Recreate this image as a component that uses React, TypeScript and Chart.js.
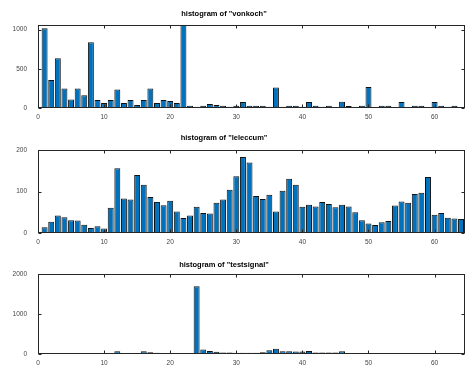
import React, { useEffect, useRef } from "react";
import { Chart, registerables } from "chart.js";

Chart.register(...registerables);

const bins = [
  1, 2, 3, 4, 5, 6, 7, 8, 9, 10, 11, 12, 13, 14, 15, 16, 17, 18, 19, 20, 21, 22, 23, 24, 25, 26, 27, 28, 29, 30, 31, 32,
  33, 34, 35, 36, 37, 38, 39, 40, 41, 42, 43, 44, 45, 46, 47, 48, 49, 50, 51, 52, 53, 54, 55, 56, 57, 58, 59, 60, 61, 62, 63, 64,
];

const vonkoch = [
  1020, 359, 636, 248, 107, 248, 162, 841, 102, 64, 102, 235, 64, 102, 38, 102, 248, 64, 102, 90, 64, 1080, 30, 17, 30, 51, 38, 30, 17, 30, 77, 30,
  30, 30, 17, 262, 17, 30, 30, 17, 77, 30, 17, 30, 10, 79, 26, 10, 30, 269, 10, 30, 30, 13, 77, 13, 30, 30, 13, 77, 30, 17, 30, 10,
];

const leleccum = [
  14, 27, 42, 38, 31, 30, 20, 12, 16, 11, 61, 156, 83, 81, 140, 116, 87, 75, 67, 78, 52, 36, 42, 63, 48, 47, 73, 81, 104, 137, 183, 170,
  89, 82, 92, 52, 102, 131, 116, 63, 68, 64, 75, 70, 62, 68, 64, 50, 31, 23, 19, 26, 29, 66, 76, 73, 94, 97, 135, 44, 48, 37, 35, 34,
];

const testsignal = [
  6, 5, 6, 5, 6, 5, 5, 0, 0, 0, 0, 72, 0, 0, 0, 72, 48, 32, 24, 24, 24, 24, 24, 1696, 112, 80, 56, 40, 40, 32, 32, 32,
  32, 48, 96, 136, 72, 72, 64, 64, 80, 40, 40, 40, 40, 72, 16, 16, 16, 16, 8, 8, 8, 8, 8, 0, 0, 0, 0, 0, 0, 0, 0, 0,
];

const xTicks = [0, 10, 20, 30, 40, 50, 60];

const titles = ['histogram of "vonkoch"', 'histogram of "leleccum"', 'histogram of "testsignal"'];
const seriesList = [vonkoch, leleccum, testsignal];
const yMaxes = [1060, 200, 2000];
const yTickLists = [
  [0, 500, 1000],
  [0, 100, 200],
  [0, 1000, 2000],
];

// layout (pixels)
const W = 468;
const H = 369;
const plotLeft = 38;
const plotRight = 465;
const plotTops = [25, 150, 274];
const plotBottoms = [108, 233, 358];
const titleYs = [13.5, 138, 264.5];
const titleX = 224;
const xAxisH = 12;

const FONT = '"Liberation Sans", Arial, Helvetica, sans-serif';
const AXIS_COLOR = "#262626";

function makeBoxPlugin(title: string, titleY: number, yTicks: number[]) {
  return {
    id: "boxAndTitle",
    afterDatasetsDraw(chart: any) {
      const { ctx, chartArea } = chart;
      const { left, right, top, bottom } = chartArea;
      const xs = chart.scales.x;
      const ys = chart.scales.y;
      ctx.save();
      ctx.strokeStyle = AXIS_COLOR;
      ctx.lineWidth = 1;
      const L = Math.round(left) + 0.5;
      const R = Math.round(right) - 0.5;
      const T = Math.round(top) + 0.5;
      const B = Math.round(bottom) - 0.5;
      ctx.strokeRect(L, T, R - L, B - T);
      const tl = 3;
      ctx.beginPath();
      for (const v of xTicks) {
        const px = Math.round(xs.getPixelForValue(v)) + 0.5;
        ctx.moveTo(px, B);
        ctx.lineTo(px, B - tl);
        ctx.moveTo(px, T);
        ctx.lineTo(px, T + tl);
      }
      for (const v of yTicks) {
        const py = Math.round(ys.getPixelForValue(v)) + 0.5;
        ctx.moveTo(L, py);
        ctx.lineTo(L + tl, py);
        ctx.moveTo(R, py);
        ctx.lineTo(R - tl, py);
      }
      ctx.stroke();
      ctx.fillStyle = "#000";
      ctx.font = `bold 7.5px ${FONT}`;
      ctx.textAlign = "center";
      ctx.textBaseline = "middle";
      ctx.fillText(title, titleX, titleY);
      ctx.restore();
    },
  };
}

function Panel({ idx }: { idx: number }) {
  const ref = useRef<HTMLCanvasElement | null>(null);
  useEffect(() => {
    if (!ref.current) return;
    const values = seriesList[idx];
    const yTicks = yTickLists[idx];
    const chart = new Chart(ref.current, {
      type: "bar",
      data: {
        datasets: [
          {
            data: bins.map((b, i) => ({ x: b, y: values[i] })),
            backgroundColor: "#0072BD",
            borderColor: "#111111",
            borderWidth: 1,
            borderSkipped: false,
            barPercentage: 0.9,
            categoryPercentage: 1.0,
          },
        ],
      },
      options: {
        animation: false,
        responsive: false,
        events: [],
        layout: {
          autoPadding: false,
          padding: {
            top: plotTops[idx],
            bottom: H - plotBottoms[idx] - xAxisH,
            left: 0,
            right: W - plotRight,
          },
        },
        plugins: {
          legend: { display: false },
          title: { display: false },
          tooltip: { enabled: false },
        },
        scales: {
          x: {
            type: "linear",
            min: 0,
            max: 64.6,
            offset: false,
            afterBuildTicks: (s: any) => {
              s.ticks = xTicks.map((v) => ({ value: v }));
            },
            afterFit: (s: any) => {
              s.height = xAxisH;
            },
            grid: { display: false, drawTicks: false },
            border: { display: false },
            ticks: {
              padding: 5,
              autoSkip: false,
              maxRotation: 0,
              color: "#444",
              font: { family: FONT, size: 6.5 },
              callback: (v: any) => String(v),
            },
          },
          y: {
            type: "linear",
            min: 0,
            max: yMaxes[idx],
            afterBuildTicks: (s: any) => {
              s.ticks = yTicks.map((v) => ({ value: v }));
            },
            afterFit: (s: any) => {
              s.width = plotLeft;
            },
            grid: { display: false, drawTicks: false },
            border: { display: false },
            ticks: {
              padding: 11,
              color: "#444",
              font: { family: FONT, size: 6.5 },
              callback: (v: any) => String(v),
            },
          },
        },
      },
      plugins: [makeBoxPlugin(titles[idx], titleYs[idx], yTicks)],
    } as any);
    return () => chart.destroy();
  }, [idx]);
  return (
    <canvas
      ref={ref}
      width={W}
      height={H}
      style={{ position: "absolute", left: 0, top: 0, width: W, height: H }}
    />
  );
}

export default function App() {
  return (
    <div style={{ position: "fixed", left: 0, top: 0, width: W, height: H, background: "#fff" }}>
      <Panel idx={0} />
      <Panel idx={1} />
      <Panel idx={2} />
    </div>
  );
}
